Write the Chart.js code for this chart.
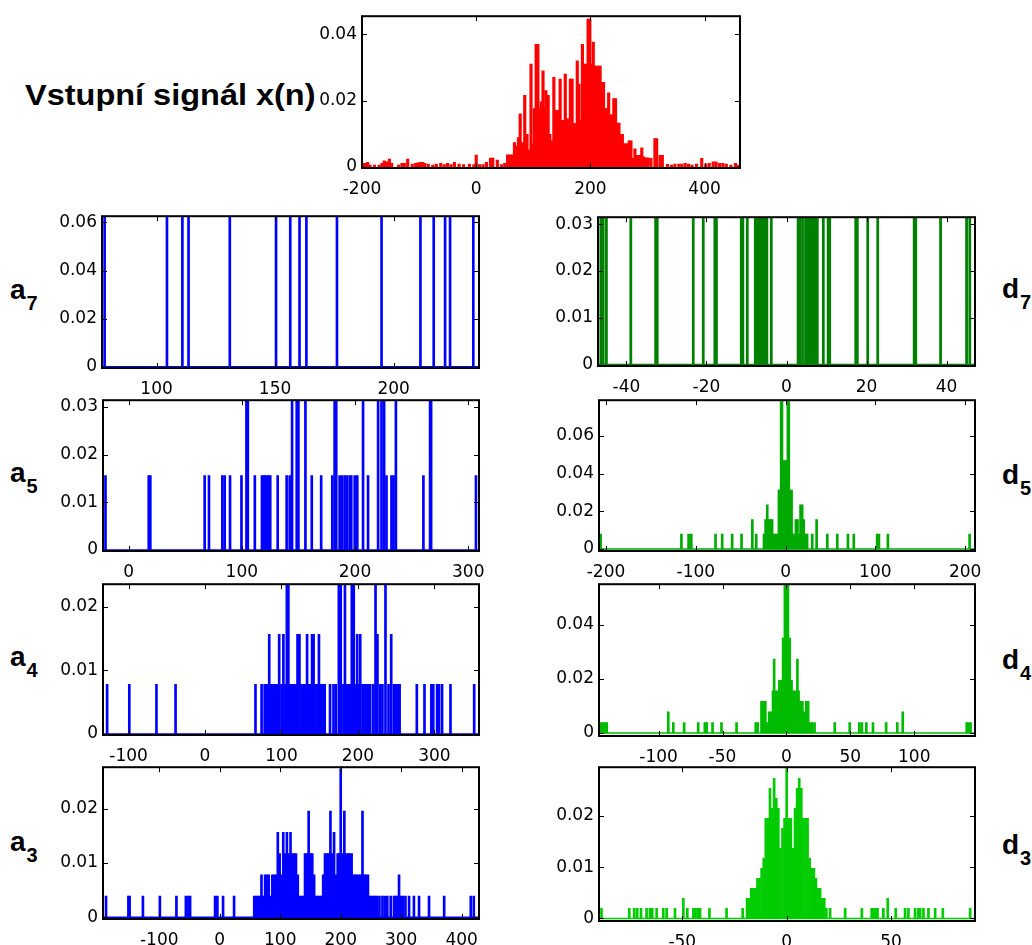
<!DOCTYPE html>
<html><head><meta charset="utf-8">
<script src="https://cdn.jsdelivr.net/npm/chart.js@4.4.1/dist/chart.umd.min.js"></script>
<style>
html,body{margin:0;padding:0;background:#fff;}
#page{position:relative;width:1032px;height:945px;overflow:hidden;background:#fff;}
canvas{position:absolute;}
.lab{position:absolute;font-family:"Liberation Sans",Arial,sans-serif;font-weight:bold;color:#000;white-space:nowrap;font-size:28px;line-height:28px;}
.sub{font-size:20px;font-weight:bold;position:relative;top:11px;margin-left:1px;}
</style></head>
<body><div id="page">
<div class="lab" style="left:25px;top:81px;font-size:29px;line-height:29px;transform:scaleX(1.12);transform-origin:0 0;">Vstupní signál x(n)</div>
<div class="lab" style="left:10px;top:276px">a<span class="sub">7</span></div>
<div class="lab" style="left:10px;top:459px">a<span class="sub">5</span></div>
<div class="lab" style="left:10px;top:643px">a<span class="sub">4</span></div>
<div class="lab" style="left:10px;top:828px">a<span class="sub">3</span></div>
<div class="lab" style="left:1002px;top:275px">d<span class="sub">7</span></div>
<div class="lab" style="left:1002px;top:461px">d<span class="sub">5</span></div>
<div class="lab" style="left:1002px;top:646px">d<span class="sub">4</span></div>
<div class="lab" style="left:1002px;top:831px">d<span class="sub">3</span></div>
</div>
<script>
// ---------------- DATA ----------------
// input signal histogram: [x, relative frequency]
const signalBins = [[-198,0.0010],[-194,0.0010],[-190,0.0013],[-186,0.0005],[-178,0.0005],[-170,0.0005],[-165,0.0010],[-161,0.0018],[-157,0.0015],[-152,0.0023],
[-148,0.0010],[-136,0.0005],[-130,0.0010],[-126,0.0010],[-120,0.0023],[-112,0.0008],[-106,0.0010],[-102,0.0012],[-98,0.0013],[-94,0.0013],
[-90,0.0010],[-84,0.0008],[-76,0.0005],[-70,0.0008],[-62,0.0010],[-56,0.0006],[-50,0.0010],[-44,0.0006],[-38,0.0013],[-30,0.0008],
[-22,0.0006],[-12,0.0008],[-4,0.0006],[0,0.0035],[6,0.0006],[12,0.0006],[18,0.0013],[25,0.0026],[29,0.0026],[37,0.0020],
[44,0.0006],[50,0.0010],[55,0.0036],[59,0.0036],[63,0.0036],[67,0.0073],[70,0.0062],[74,0.0088],[77,0.0160],[81,0.0073],
[85,0.0216],[89,0.0098],[92,0.0050],[96,0.0310],[99,0.0070],[102,0.0176],[105,0.0370],[108,0.0370],[111,0.0176],[114,0.0196],
[117,0.0290],[120,0.0176],[122,0.0230],[126,0.0216],[129,0.0098],[132,0.0078],[136,0.0270],[139,0.0170],[143,0.0170],[147,0.0265],
[150,0.0140],[153,0.0140],[156,0.0280],[159,0.0145],[162,0.0145],[165,0.0265],[168,0.0265],[171,0.0130],[174,0.0130],[177,0.0320],
[180,0.0250],[183,0.0140],[186,0.0370],[189,0.0310],[193,0.0310],[196,0.0446],[199,0.0446],[202,0.0310],[205,0.0377],[208,0.0304],
[211,0.0304],[214,0.0304],[217,0.0304],[220,0.0255],[223,0.0255],[226,0.0176],[229,0.0176],[232,0.0223],[235,0.0157],[238,0.0157],
[241,0.0206],[244,0.0206],[247,0.0132],[250,0.0132],[253,0.0098],[256,0.0098],[259,0.0069],[262,0.0069],[265,0.0069],[268,0.0078],
[271,0.0078],[274,0.0025],[278,0.0054],[282,0.0034],[286,0.0034],[290,0.0057],[293,0.0030],[297,0.0027],[301,0.0027],[306,0.0025],
[313,0.0085],[316,0.0085],[322,0.0034],[326,0.0034],[335,0.0007],[342,0.0005],[348,0.0008],[355,0.0008],[360,0.0008],[366,0.0010],
[372,0.0008],[378,0.0005],[386,0.0008],[395,0.0025],[402,0.0008],[408,0.0010],[415,0.0015],[420,0.0015],[426,0.0010],[432,0.0010],
[438,0.0008],[446,0.0005],[454,0.0010],[458,0.0005]];

// coefficient histograms: [x, count]
const a7Bins = [[78.1,1],[104.4,1],[110.9,1],[113.5,1],[130.9,1],[150.4,1],[156.4,1],[160.3,1],[163.2,1],[176.1,1],[194.9,1],[211.3,1],[216.9,1],[221.7,1],[223.8,1],[233.6,1]];
const a5Bins = [[-20.4,1],[17.8,1],[19.2,1],[67.2,1],[71,1],[82.8,1],[84.9,1],[89.6,1],[99.7,1],[104.1,2],[105.3,2],[111.5,1],[117.8,1],[119.2,1],[120.7,1],[122.2,1],[123.7,1],[125.1,1],
[131.7,1],[139.6,1],[142.3,1],[144.4,2],[148.5,2],[150,2],[156.2,2],[161.8,1],[170.1,1],[179.9,1],[182,2],[183.4,2],[186.4,1],[188.5,1],[190.8,1],[192.9,1],[195.3,1],[196.7,1],
[199.7,1],[202,1],[207.1,2],[211.5,1],[220.4,2],[223.4,2],[225.7,2],[227.8,1],[232.2,1],[234,1],[236.1,2],[260.4,1],[266.3,2],[267.2,2],[306.8,1]];
const a4Bins = [[-128,1],[-99,1],[-63.5,1],[-38.5,1],[66,1],[74,1],[78,1],[81,1],[84,2],[86.5,1],[89,1],[91.5,1],[94,1],[97,2],[100,1],[102.5,2],[105,1],[107,3],[109,3],[111.5,1],
[114,1],[116.5,1],[119,1],[121,2],[123.5,2],[126,1],[128.5,1],[131,1],[133.5,2],[136,1],[138.5,1],[140,2],[142,2],[144.5,1],[147,1],[149,2],[151.5,1],[154,1],[156.5,1],[163.5,1],
[168,1],[171,1],[175,3],[177.5,3],[181,1],[183,3],[185.5,1],[188,1],[190.5,1],[192,3],[194.5,3],[197,1],[199,2],[201.5,1],[203,2],[206,1],[208.5,1],[211,1],[213.5,1],[216,1],
[220,1],[223,3],[225.5,2],[229,1],[232,1],[236,3],[240,1],[243.5,2],[247,1],[249.5,1],[252,1],[254.5,1],[277,1],[287,1],[296,1],[298.5,1],[303.5,1],[306,1],[310,1],[321,1],[352,1]];
const a3Bins = [[-188,1],[-151,1],[-149,1],[-127,1],[-99,1],[-71.6,1],[-56,1],[-51.8,1],[-49,1],[-7.7,1],[-3.9,1],[5.5,1],[23.7,1],
[57,1],[60,1],[63,1],[66,1],[69,2],[72,1],[75,2],[78,2],[81,2],[84,1],[87,2],[90,2],[93,2],[96,4],[99,3],[102,2],[105,4],[108,3],[111,4],[114,3],[117,4],[120,3],[123,3],[126,3],
[129,2],[132,1],[135,1],[138,1],[141,3],[144,3],[147,5],[150,3],[153,3],[156,2],[159,1],[162,1],[165,1],[168,1],[171,2],[174,3],[177,3],[180,3],[183,5],[186,3],[189,4],[192,2],
[195,3],[198,3],[200,7],[203,3],[206,5],[209,3],[212,3],[215,3],[218,3],[221,2],[224,2],[227,2],[230,2],[233,2],[236,5],[239,2],[242,2],[245,2],[248,1],[251,1],[254,1],[257,1],
[260,1],[264,1],[269,1],[273,1],[277,1],[282.6,1],[288,1],[291,1],[293.7,1],[296.4,2],[300,1],[303,1],[307,1],[313,1],[321,1],[329.5,1],[346,1],[371,1],[415,1],[420,1]];
const d7Bins = [[-46.4,1],[-45.8,1],[-45,1],[-38.9,1],[-32.7,1],[-32.3,1],[-23.3,1],[-20.8,1],[-17.9,1],[-17.5,1],[-11.3,1],[-10.9,1],[-9.8,1],[-7.8,1],[-7.3,1],[-6.8,1],[-6.3,1],
[-5.8,1],[-5.3,1],[-4.9,1],[-3.8,1],[2.9,1],[3.3,1],[4,1],[4.75,1],[5.2,1],[5.7,1],[6.2,1],[6.7,1],[7.2,1],[7.7,1],[9.2,1],[10.4,1],[10.8,1],[17.3,1],[17.7,1],[20.3,1],[22.8,1],
[31.9,1],[32.3,1],[38.5,1],[45,1],[45.8,1]];
const d5Bins = [[-206,1],[-116,1],[-108,1],[-105,1],[-78,1],[-70.6,1],[-59.5,1],[-49,1],[-37,2],[-32.7,1],
[-24,1],[-22.2,2],[-20.4,3],[-18.6,2],[-16.8,2],[-15,2],[-13,1],[-11.2,1],[-9.3,1],[-7.4,4],[-5.8,4],[-4.9,10],[-4,10],[-2.2,6],[-0.4,6],[1.4,6],[2.6,10],[3.6,10],[5.2,4],[6.7,4],
[8.2,1],[10,1],[11.5,2],[13.3,2],[15,1],[16.7,3],[18.5,3],[20.2,2],[22.3,1],[24,1],
[29.7,1],[34.6,2],[46.5,1],[57.6,1],[69.5,1],[76,1],[102,1],[104,1],[114,1],[205,1]];
const d4Bins = [[-145,1],[-143.5,1],[-142,1],[-140.5,1],[-92.4,2],[-88.5,1],[-80,1],[-69,1],[-63.8,1],[-62.3,1],[-57.8,1],[-50.8,1],[-39,1],[-24,1],[-22.5,1],
[-19.5,3],[-18,3],[-16.5,3],[-15,1],[-13.5,2],[-12,2],[-10.5,4],[-9.6,7],[-8.5,4],[-7,4],[-5.5,5],[-4,5],[-2.6,9],[-1.2,14],[0,14],[1.2,14],[2.6,9],[4,5],[5.5,4],[7,4],
[8.6,7],[9.5,4],[11,3],[12.5,3],[14,2],[15.5,3],[17,3],[18.5,1],[20,1],[22,1],
[37.8,1],[49.5,1],[57,1],[59,1],[62.5,1],[67.7,1],[78,1],[86.7,1],[91,2],[141,1],[142.5,1],[144,1]];
const d3Bins = [[-88.7,1],[-75.4,1],[-73,1],[-71.6,1],[-69.8,1],[-67.1,1],[-65.5,1],[-64.4,1],[-62.3,1],[-59.1,1],[-57.5,1],[-53.5,1],[-49.5,2],[-47.6,1],[-44.7,1],[-43.7,1],
[-42.6,1],[-41.5,1],[-37,1],[-28.8,1],[-21.1,1],
[-19,2],[-18,2],[-17,3],[-16,3],[-15,3],[-14,4],[-13,4],[-12,5],[-11,6],[-10,10],[-9,10],[-8,13],[-7,11],[-6,14],[-5,12],[-4,11],[-3,7],[-2,9],[-1,10],[0,15],
[1,10],[2,10],[3,7],[4,11],[5,13],[6,14],[7,13],[8,10],[9,10],[10,10],[11,6],[12,5],[13,5],[14,4],[15,3],[16,3],[17,2],[18,2],[19,1],
[20.8,1],[28,1],[36,1],[40.7,1],[41.6,1],[42.6,1],[43.5,1],[46.3,1],[48.4,2],[52.2,1],[56.7,1],[58.3,1],[61.5,1],[63.1,1],[63.9,1],[65.5,1],[67.9,1],[71.1,1],[74.8,1],[87.9,1]];

// sample counts per histogram
const nSignal = 1, nA7 = 16, nA5 = 64, nA4 = 128, nA3 = 256, nD7 = 32, nD5 = 128, nD4 = 256, nD3 = 512;

// tick labels
const signalXTicks = [-200,0,200,400], signalYTicks = [0,0.02,0.04];
const a7XTicks = [100,150,200], a7YTicks = [0,0.02,0.04,0.06];
const a5XTicks = [0,100,200,300], a5YTicks = [0,0.01,0.02,0.03];
const a4XTicks = [-100,0,100,200,300], a4YTicks = [0,0.01,0.02];
const a3XTicks = [-100,0,100,200,300,400], a3YTicks = [0,0.01,0.02];
const d7XTicks = [-40,-20,0,20,40], d7YTicks = [0,0.01,0.02,0.03];
const d5XTicks = [-200,-100,0,100,200], d5YTicks = [0,0.02,0.04,0.06];
const d4XTicks = [-100,-50,0,50,100], d4YTicks = [0,0.02,0.04];
const d3XTicks = [-50,0,50], d3YTicks = [0,0.01,0.02];

// ---------------- LAYOUT ----------------
const panels = [
 {L:362,T:13,R:740,B:168, xr:[-200,462], yr:[-0.0004,0.0455], xt:signalXTicks, yt:signalYTicks, bins:signalBins, n:nSignal, color:'#ff0000', bt:2.5, base:false},
 {L:102,T:213,R:479,B:368, xr:[77,236], yr:[-0.0005,0.0626], xt:a7XTicks, yt:a7YTicks, bins:a7Bins, n:nA7, color:'#0000ff', bt:2, base:true},
 {L:103,T:397,R:479,B:551, xr:[-22.6,309.5], yr:[-0.0002,0.0314], xt:a5XTicks, yt:a5YTicks, bins:a5Bins, n:nA5, color:'#0000ff', bt:2, base:true},
 {L:103,T:581,R:479,B:735, xr:[-133.4,358.3], yr:[-0.00015,0.0235], xt:a4XTicks, yt:a4YTicks, bins:a4Bins, n:nA4, color:'#0000ff', bt:2, base:true},
 {L:103,T:764,R:479,B:919, xr:[-193,428.6], yr:[-0.0003,0.0276], xt:a3XTicks, yt:a3YTicks, bins:a3Bins, n:nA3, color:'#0000ff', bt:2, base:true},
 {L:598,T:214,R:975,B:366, xr:[-47.1,47.1], yr:[-0.0003,0.0315], xt:d7XTicks, yt:d7YTicks, bins:d7Bins, n:nD7, color:'#008000', bt:2.1, base:true},
 {L:599,T:397,R:975,B:551, xr:[-207.8,211], yr:[-0.0011,0.0789], xt:d5XTicks, yt:d5YTicks, bins:d5Bins, n:nD5, color:'#00aa00', bt:2, base:true},
 {L:599,T:581,R:975,B:736, xr:[-146.6,147.5], yr:[-0.0011,0.0551], xt:d4XTicks, yt:d4YTicks, bins:d4Bins, n:nD4, color:'#00bb00', bt:2, base:true},
 {L:599,T:764,R:975,B:921, xr:[-89.9,90.2], yr:[-0.0005,0.0295], xt:d3XTicks, yt:d3YTicks, bins:d3Bins, n:nD3, color:'#00cc00', bt:2, base:true}
];

const boxPlugin = {
  id:'matlabBox',
  afterDatasetsDraw(chart){
    const {ctx, chartArea:{left,top,right,bottom}, scales:{x,y}} = chart;
    ctx.save();
    ctx.strokeStyle = '#000';
    ctx.lineWidth = 1;
    ctx.beginPath();
    x.ticks.forEach(t=>{
      const px = Math.round(x.getPixelForValue(t.value))+0.5;
      ctx.moveTo(px,bottom); ctx.lineTo(px,bottom-5);
      ctx.moveTo(px,top); ctx.lineTo(px,top+5);
    });
    y.ticks.forEach(t=>{
      const py = Math.round(y.getPixelForValue(t.value))+0.5;
      ctx.moveTo(left,py); ctx.lineTo(left+5,py);
      ctx.moveTo(right,py); ctx.lineTo(right-5,py);
    });
    ctx.stroke();
    ctx.lineWidth = 2;
    ctx.strokeRect(left, top, right-left, bottom-top);
    ctx.restore();
  }
};

const page = document.getElementById('page');
const padL=62, padT=12, padR=20, padB=32;
const tickFont = {family:'"DejaVu Sans", sans-serif', size:17};

panels.forEach(p=>{
  const c = document.createElement('canvas');
  const w = (p.R-p.L)+padL+padR, h = (p.B-p.T)+padT+padB;
  c.width = w; c.height = h;
  c.style.left = (p.L-padL)+'px'; c.style.top = (p.T-padT)+'px';
  c.style.width = w+'px'; c.style.height = h+'px';
  page.appendChild(c);
  const datasets = [{
    type:'bar',
    data:p.bins.map(([x,v])=>({x:x, y:v/p.n})),
    backgroundColor:p.color, borderWidth:0, barThickness:p.bt, order:2
  }];
  if(p.base){
    datasets.push({type:'line', data:[{x:p.xr[0],y:0},{x:p.xr[1],y:0}], borderColor:p.color, borderWidth:1.5, pointRadius:0, order:1});
  }
  new Chart(c, {
    type:'bar',
    data:{datasets},
    options:{
      responsive:false, animation:false, devicePixelRatio:1,
      layout:{padding:{left:0, top:padT, right:padR, bottom:0}},
      plugins:{legend:{display:false}, tooltip:{enabled:false}},
      scales:{
        x:{type:'linear', min:p.xr[0], max:p.xr[1], offset:false,
           grid:{display:false, drawTicks:false}, border:{display:false},
           ticks:{autoSkip:false, maxRotation:0, padding:11, font:tickFont, color:'#000', callback:v=>String(v)},
           afterBuildTicks:s=>{ s.ticks = p.xt.map(v=>({value:v})); },
           afterFit:s=>{ s.height = padB; }},
        y:{type:'linear', min:p.yr[0], max:p.yr[1],
           grid:{display:false, drawTicks:false}, border:{display:false},
           ticks:{autoSkip:false, padding:5, font:tickFont, color:'#000', callback:v=>String(v)},
           afterBuildTicks:s=>{ s.ticks = p.yt.map(v=>({value:v})); },
           afterFit:s=>{ s.height; s.width = padL; }}
      }
    },
    plugins:[boxPlugin]
  });
});
</script>
</body></html>
